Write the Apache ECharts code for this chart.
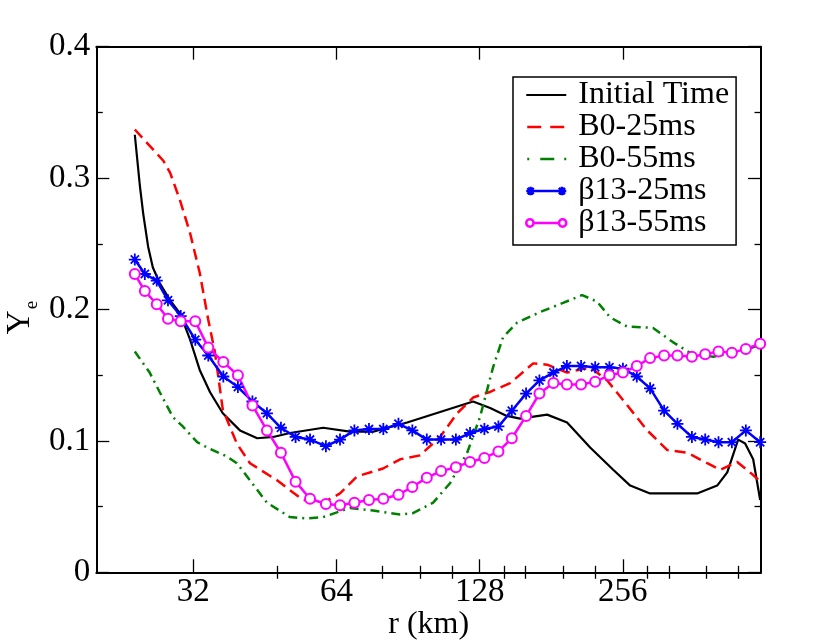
<!DOCTYPE html>
<html>
<head>
<meta charset="utf-8">
<script src="https://cdn.jsdelivr.net/npm/echarts@6/dist/echarts.min.js"></script>
<style>
  html, body { margin: 0; padding: 0; background: #fff; }
  #chart { width: 830px; height: 642px; }
</style>
</head>
<body>
<div id="chart"></div>
<script>
// r (km) and Ye
const rInit = [24.1, 24.7, 25.1, 25.7, 26.3, 27.2, 28.6, 30.0, 31.5, 33.0, 34.7, 36.9, 40.1, 43.6, 47.1, 51.1, 60.0, 68.3, 76.4, 90.1,
  105.7, 124.0, 134.7, 146.0, 155.7, 177.5, 195.5, 218.6, 244.4, 265.4, 292.2, 326.8, 367.0, 404.4, 424.6, 447.6, 463.0, 481.4, 498.0];
const yeInit = [0.333, 0.294, 0.273, 0.248, 0.232, 0.220, 0.207, 0.197, 0.177, 0.154, 0.137, 0.121, 0.108, 0.102, 0.103, 0.106, 0.110, 0.107, 0.107, 0.114,
  0.122, 0.130, 0.125, 0.119, 0.117, 0.120, 0.114, 0.095, 0.078, 0.066, 0.060, 0.060, 0.060, 0.066, 0.076, 0.101, 0.098, 0.086, 0.055];

const rB0_25 = [24.1, 27.7, 28.6, 30.0, 31.5, 33.0, 34.4, 35.5, 36.9, 39.5, 42.1, 48.0, 54.4, 60.0, 65.1, 70.7, 80.2, 87.1, 95.9,
  105.7, 114.8, 124.0, 134.0, 148.4, 165.9, 177.5, 195.5, 218.6, 237.4, 256.5, 288.2, 317.6, 349.9, 385.4, 410.4, 445.6, 481.4, 498.0];
const yeB0_25 = [0.337, 0.313, 0.304, 0.283, 0.258, 0.228, 0.192, 0.168, 0.124, 0.098, 0.083, 0.070, 0.055, 0.053, 0.060, 0.073, 0.079, 0.086, 0.089,
  0.103, 0.121, 0.133, 0.137, 0.144, 0.159, 0.158, 0.152, 0.156, 0.146, 0.131, 0.108, 0.093, 0.091, 0.083, 0.078, 0.084, 0.074, 0.069];

const rB0_55 = [24.1, 25.9, 27.2, 29.0, 30.4, 32.6, 34.2, 37.7, 39.5, 42.1, 45.7, 51.1, 55.4, 60.0, 68.3, 76.4, 87.1, 92.7,
  102.2, 111.0, 120.5, 128.2, 136.6, 143.4, 153.5, 171.5, 191.7, 210.3, 226.1, 240.8, 261.6, 296.5, 326.8, 354.8, 396.7, 451.9, 498.0];
const yeB0_55 = [0.168, 0.152, 0.137, 0.118, 0.111, 0.099, 0.095, 0.088, 0.083, 0.070, 0.053, 0.042, 0.041, 0.042, 0.049, 0.047, 0.044, 0.045,
  0.053, 0.068, 0.091, 0.118, 0.156, 0.179, 0.190, 0.198, 0.205, 0.211, 0.206, 0.194, 0.187, 0.186, 0.175, 0.167, 0.164, 0.168, 0.173];

// both beta13 runs share the same radial grid
const rBeta = [24.1, 25.3, 26.8, 28.3, 30.1, 32.3, 34.4, 37.0, 39.7, 42.6, 45.7, 48.9, 52.5, 56.3, 60.8, 65.1, 69.8, 74.9, 80.3, 86.4,
  92.4, 99.1, 106.2, 114.1, 122.2, 131.0, 140.2, 149.6, 160.3, 171.0, 183.0, 195.3, 209.2, 224.0, 240.0, 256.2, 274.0, 292.2, 312.8, 333.6,
  357.8, 381.6, 407.0, 434.2, 464.6, 498.0];
const yeBeta25 = [0.238, 0.227, 0.222, 0.207, 0.195, 0.177, 0.165, 0.149, 0.141, 0.130, 0.121, 0.110, 0.103, 0.101, 0.096, 0.101, 0.108, 0.109, 0.109, 0.113,
  0.108, 0.101, 0.101, 0.101, 0.106, 0.109, 0.111, 0.123, 0.136, 0.146, 0.152, 0.157, 0.157, 0.156, 0.156, 0.155, 0.149, 0.140, 0.123, 0.113,
  0.103, 0.101, 0.099, 0.099, 0.108, 0.099];
const yeBeta55 = [0.227, 0.214, 0.204, 0.193, 0.191, 0.191, 0.171, 0.160, 0.150, 0.127, 0.108, 0.091, 0.069, 0.056, 0.052, 0.051, 0.053, 0.055, 0.056, 0.059,
  0.065, 0.072, 0.077, 0.080, 0.084, 0.087, 0.092, 0.102, 0.119, 0.136, 0.144, 0.143, 0.143, 0.145, 0.150, 0.152, 0.157, 0.163, 0.165, 0.165,
  0.164, 0.166, 0.168, 0.167, 0.170, 0.174];

const xMajor = [32, 64, 128, 256];
const xMinor = [48, 80, 96, 112, 144, 160, 192, 224, 288, 320, 384, 448];
const seriesNames = ['Initial Time', 'B0-25ms', 'B0-55ms', 'β13-25ms', 'β13-55ms'];
const seriesColors = ['#000000', '#ff0000', '#008000', '#0000ff', '#ff00ff'];

const FONT = "'Liberation Serif', 'DejaVu Serif', serif";
const ASTERISK = 'path://M5,0L5,10M0,5L10,5M1.6,1.6L8.4,8.4M1.6,8.4L8.4,1.6';

// legend samples, drawn in a 40x14 box (the two moves pin the box)
const BOX = 'M0,0M40,14';
const legendIcons = [
  BOX + 'M0,7L40,7',
  BOX + 'M1,7L15,7M24,7L38,7',
  BOX + 'M1,7L3,7M14,7L28,7M38,7L40,7',
  BOX + 'M2,7L38,7M2,2L2,12M-3,7L7,7M-1.5,3.5L5.5,10.5M-1.5,10.5L5.5,3.5'
      + 'M38,2L38,12M33,7L43,7M34.5,3.5L41.5,10.5M34.5,10.5L41.5,3.5',
  BOX + 'M6,7L34,7M6,7A4,4 0 1 1 -2,7A4,4 0 1 1 6,7M42,7A4,4 0 1 1 34,7A4,4 0 1 1 42,7'
];

function pairs(xs, ys) {
  return xs.map((x, i) => [x, ys[i]]);
}

function logX(extra) {
  return Object.assign({
    type: 'log', logBase: 2, min: 20, max: 500,
    axisLine: { show: false },
    axisTick: { show: false },
    axisLabel: { show: false },
    splitLine: { show: false }
  }, extra);
}

const myChart = echarts.init(document.getElementById('chart'));

const option = {
  animation: false,
  backgroundColor: '#fff',
  grid: { left: 96.3, top: 46.7, right: 69, bottom: 69.7, containLabel: false, outerBoundsMode: 'none' },
  xAxis: [
    logX({
      position: 'bottom',
      name: 'r (km)', nameLocation: 'middle', nameGap: 36, nameMoveOverlap: false,
      nameTextStyle: { fontFamily: FONT, fontSize: 32, color: '#000' },
      axisLine: { show: true, onZero: false, lineStyle: { color: '#000', width: 2 } },
      axisTick: { show: true, inside: true, length: 13, customValues: xMajor, lineStyle: { color: '#000', width: 1.3 } },
      axisLabel: { show: true, customValues: xMajor, margin: 4, fontFamily: FONT, fontSize: 33, color: '#000' }
    }),
    logX({
      position: 'bottom',
      axisTick: { show: true, inside: true, length: 6.5, customValues: xMinor, lineStyle: { color: '#000', width: 1.3 } }
    }),
    logX({
      position: 'top',
      axisLine: { show: true, onZero: false, lineStyle: { color: '#000', width: 2 } },
      axisTick: { show: true, inside: true, length: 13, customValues: xMajor, lineStyle: { color: '#000', width: 1.3 } }
    }),
    logX({
      position: 'top',
      axisTick: { show: true, inside: true, length: 6.5, customValues: xMinor, lineStyle: { color: '#000', width: 1.3 } }
    })
  ],
  yAxis: [
    {
      type: 'value', position: 'left', min: 0, max: 0.4, interval: 0.1,
      name: '{y|Y}{e|e}', nameLocation: 'middle', nameGap: 59, nameRotate: 90, nameMoveOverlap: false,
      nameTextStyle: {
        padding: [0, 16, 0, 0],
        rich: {
          y: { fontFamily: FONT, fontSize: 33, color: '#000', lineHeight: 33, verticalAlign: 'top' },
          e: { fontFamily: FONT, fontSize: 19, color: '#000', lineHeight: 19, verticalAlign: 'top', padding: [18, 0, 0, 1] }
        }
      },
      axisLine: { show: true, onZero: false, lineStyle: { color: '#000', width: 2 } },
      axisTick: { show: true, inside: true, length: 13, lineStyle: { color: '#000', width: 1.3 } },
      minorTick: { show: true, splitNumber: 2, length: 6.5, lineStyle: { color: '#000', width: 1.3 } },
      axisLabel: { margin: 6, fontFamily: FONT, fontSize: 33, color: '#000' },
      splitLine: { show: false }
    },
    {
      type: 'value', position: 'right', min: 0, max: 0.4, interval: 0.1,
      axisLine: { show: true, onZero: false, lineStyle: { color: '#000', width: 2 } },
      axisTick: { show: true, inside: true, length: 13, lineStyle: { color: '#000', width: 1.3 } },
      minorTick: { show: true, splitNumber: 2, length: 6.5, lineStyle: { color: '#000', width: 1.3 } },
      axisLabel: { show: false },
      splitLine: { show: false }
    }
  ],
  legend: {
    orient: 'vertical',
    left: 513, top: 77,
    padding: [2, 7, 6, 12],
    itemGap: 0,
    itemWidth: 40, itemHeight: 14,
    borderColor: '#000', borderWidth: 1.5,
    backgroundColor: '#fff',
    textStyle: { fontFamily: FONT, fontSize: 32, color: '#000', lineHeight: 32, padding: [0, 0, 0, 7] },
    data: seriesNames.map((name, i) => ({
      name: name,
      icon: 'path://' + legendIcons[i],
      itemStyle: { color: 'rgba(0,0,0,0)', borderColor: seriesColors[i], borderWidth: i === 0 ? 2.2 : 2.5 }
    }))
  },
  series: [
    {
      name: seriesNames[0], type: 'line', data: pairs(rInit, yeInit),
      showSymbol: false, symbol: 'none',
      lineStyle: { color: seriesColors[0], width: 2.2 }, itemStyle: { color: seriesColors[0] }
    },
    {
      name: seriesNames[1], type: 'line', data: pairs(rB0_25, yeB0_25),
      showSymbol: false, symbol: 'none',
      lineStyle: { color: seriesColors[1], width: 2.5, type: [11, 6] }, itemStyle: { color: seriesColors[1] }
    },
    {
      name: seriesNames[2], type: 'line', data: pairs(rB0_55, yeB0_55),
      showSymbol: false, symbol: 'none',
      lineStyle: { color: seriesColors[2], width: 2.5, type: [9, 5, 2, 5] }, itemStyle: { color: seriesColors[2] }
    },
    {
      name: seriesNames[3], type: 'line', data: pairs(rBeta, yeBeta25),
      symbol: ASTERISK, symbolSize: 12,
      lineStyle: { color: seriesColors[3], width: 2.5 },
      itemStyle: { color: seriesColors[3], borderColor: seriesColors[3], borderWidth: 1.8 }
    },
    {
      name: seriesNames[4], type: 'line', data: pairs(rBeta, yeBeta55),
      symbol: 'emptyCircle', symbolSize: 10,
      lineStyle: { color: seriesColors[4], width: 2.5 },
      itemStyle: { color: seriesColors[4], borderWidth: 1.6 }
    }
  ]
};

myChart.setOption(option);
</script>
</body>
</html>
